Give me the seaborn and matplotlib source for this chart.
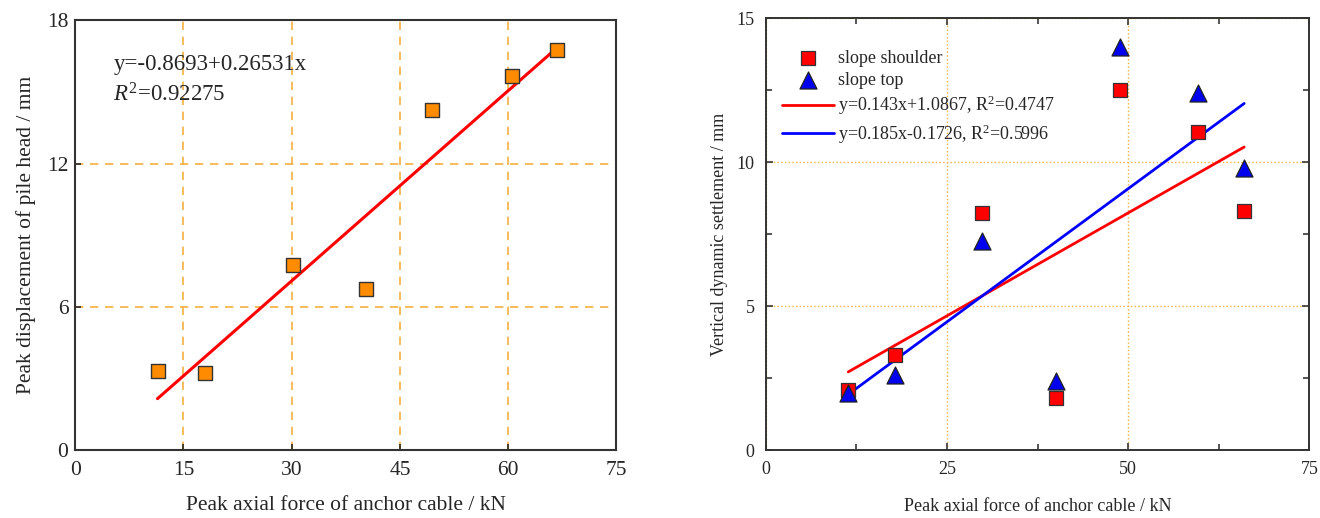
"""Peak anchor-cable force vs pile head displacement and dynamic settlement."""

import matplotlib.pyplot as plt
import numpy as np
import pandas as pd
import seaborn as sns
from matplotlib.ticker import MultipleLocator

sns.set_style("ticks")
plt.rcParams["font.family"] = ["Liberation Serif", "DejaVu Serif"]
plt.rcParams["mathtext.fontset"] = "custom"
plt.rcParams["mathtext.rm"] = "Liberation Serif"
plt.rcParams["mathtext.it"] = "Liberation Serif:italic"

# peak axial force of anchor cable (kN)
force_left = [11.4, 18.0, 30.2, 40.3, 49.4, 60.5, 66.7]
pile_disp = [3.3, 3.25, 7.75, 6.75, 14.25, 15.65, 16.75]
fit_left = (-0.8693, 0.26531)  # intercept, slope

force_right = [11.4, 17.9, 29.9, 40.0, 48.9, 59.7, 66.0]
shoulder = [2.1, 3.3, 8.25, 1.8, 12.5, 11.05, 8.3]
top = [2.0, 2.6, 7.25, 2.4, 14.0, 12.4, 9.8]
fit_shoulder = (1.0867, 0.143)
fit_top = (-0.1726, 0.185)

ORANGE = "#ff8c00"
GRID = "#f5b041"


def fit_line(x, coef):
    xs = np.array([min(x), max(x)])
    return pd.DataFrame({"x": xs, "y": coef[0] + coef[1] * xs})


fig = plt.figure(figsize=(13.2, 5.18), dpi=100)
ax1 = fig.add_axes([0.057, 0.131, 0.410, 0.830])
ax2 = fig.add_axes([0.580, 0.131, 0.412, 0.834])

# ---- left panel
df_left = pd.DataFrame({"x": force_left, "y": pile_disp})
line = fit_line(force_left, fit_left)
sns.lineplot(data=line, x="x", y="y", ax=ax1, color="red", lw=2.2, zorder=3)
sns.scatterplot(data=df_left, x="x", y="y", ax=ax1, marker="s", s=110,
                color=ORANGE, edgecolor="#333333", linewidth=1.0, zorder=4)
ax1.set_xlim(0, 75)
ax1.set_ylim(0, 18)
ax1.xaxis.set_major_locator(MultipleLocator(15))
ax1.yaxis.set_major_locator(MultipleLocator(6))
ax1.grid(True, color=GRID, ls=(0, (5, 4)), lw=1.2)
ax1.set_xlabel("Peak axial force of anchor cable / kN", fontsize=15.5, labelpad=11)
ax1.set_ylabel("Peak displacement of pile head / mm", fontsize=15.5, labelpad=8)
ax1.tick_params(labelsize=15.5, direction="in", length=4, width=1.2)
ax1.tick_params(axis="x", pad=8)
ax1.tick_params(axis="y", pad=5)
ax1.text(5.3, 15.9, "y=-0.8693+0.26531x", fontsize=16.5)
ax1.text(5.3, 14.6, "$\\mathit{R}^{2}$=0.92275", fontsize=16.5)
for sp in ax1.spines.values():
    sp.set_linewidth(1.5)
    sp.set_color("#333333")

# ---- right panel
df_sh = pd.DataFrame({"x": force_right, "y": shoulder})
df_top = pd.DataFrame({"x": force_right, "y": top})
sns.scatterplot(data=df_sh, x="x", y="y", ax=ax2, marker="s", s=90, color="red",
                edgecolor="#333333", linewidth=0.9, zorder=4, label="slope shoulder")
sns.scatterplot(data=df_top, x="x", y="y", ax=ax2, marker="^", s=150, color="#0000ee",
                edgecolor="#222222", linewidth=0.9, zorder=5, label="slope top")
sns.lineplot(data=fit_line(force_right, fit_shoulder), x="x", y="y", ax=ax2,
             color="red", lw=2.0, zorder=3,
             label="y=0.143x+1.0867, R$^{2}$=0.4747")
sns.lineplot(data=fit_line(force_right, fit_top), x="x", y="y", ax=ax2,
             color="blue", lw=2.0, zorder=3,
             label="y=0.185x-0.1726, R$^{2}$=0.5996")
ax2.set_xlim(0, 75)
ax2.set_ylim(0, 15)
ax2.xaxis.set_major_locator(MultipleLocator(25))
ax2.xaxis.set_minor_locator(MultipleLocator(12.5))
ax2.yaxis.set_major_locator(MultipleLocator(5))
ax2.yaxis.set_minor_locator(MultipleLocator(2.5))
ax2.grid(True, which="major", color=GRID, ls=":", lw=1.0)
ax2.set_xlabel("Peak axial force of anchor cable / kN", fontsize=13, labelpad=14)
ax2.set_ylabel("Vertical dynamic settlement / mm", fontsize=13, labelpad=6)
ax2.tick_params(which="both", labelsize=13, direction="in", right=True, top=True,
                width=1.1)
ax2.tick_params(which="major", length=5, pad=8)
ax2.tick_params(which="minor", length=4)
for sp in ax2.spines.values():
    sp.set_linewidth(1.4)
    sp.set_color("#333333")

handles, labels = ax2.get_legend_handles_labels()
ax2.legend(handles, labels, loc="upper left", bbox_to_anchor=(0.01, 0.952),
           frameon=False, fontsize=13, handlelength=2.9, handletextpad=0.2,
           labelspacing=0.28, borderaxespad=0.2)

fig.savefig("out.png", dpi=100)
